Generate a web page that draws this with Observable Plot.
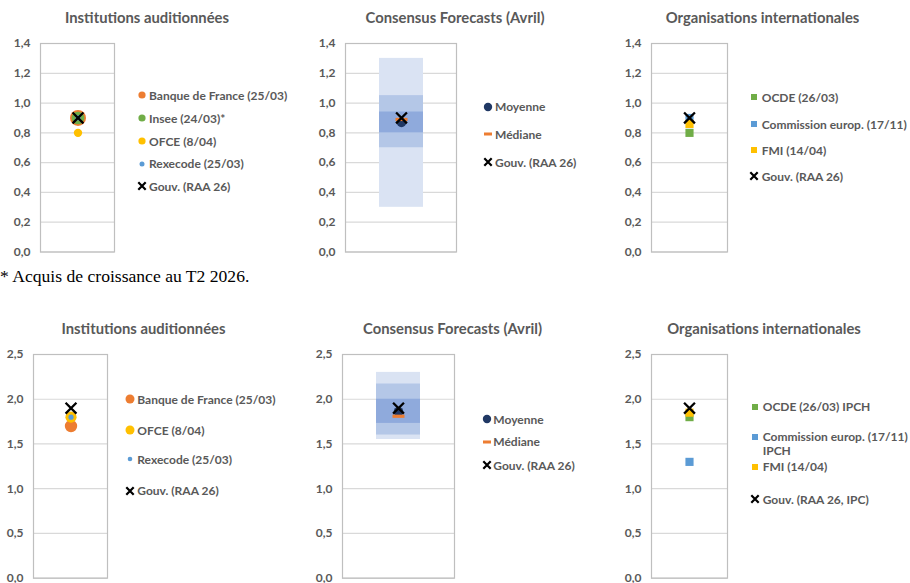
<!DOCTYPE html>
<html><head><meta charset="utf-8">
<script src="https://cdn.jsdelivr.net/npm/d3@7"></script>
<script src="https://cdn.jsdelivr.net/npm/@observablehq/plot@0.6"></script>
<style>
body{margin:0;background:#fff;}
#root{position:relative;width:910px;height:583px;overflow:hidden;font-family:Lato,"Open Sans",sans-serif;}
.abs{position:absolute;}
.title{font-weight:bold;font-size:14.8px;line-height:18px;color:#595959;white-space:nowrap;transform:translateX(-50%);}
.leg{font-weight:bold;font-size:12px;line-height:15px;color:#595959;white-space:nowrap;}
.note{font-family:"Liberation Serif","DejaVu Serif",serif;font-size:17.6px;line-height:20px;color:#000;white-space:nowrap;}
</style></head><body>
<div id="root"></div>
<script>
// ---------- DATA ----------
const growthTicks = [0, 0.2, 0.4, 0.6, 0.8, 1.0, 1.2, 1.4];
const inflTicks = [0, 0.5, 1.0, 1.5, 2.0, 2.5];
const panelTitles = ["Institutions auditionnées", "Consensus Forecasts (Avril)", "Organisations internationales"];

// Croissance 2026 (haut)
const growthInstNames = ["Banque de France (25/03)", "Insee (24/03)*", "OFCE (8/04)", "Rexecode (25/03)"];
const growthInstValues = [0.9, 0.9, 0.8, 0.9];
const growthGov = 0.9;
const growthGovLabel = "Gouv. (RAA 26)";
const growthBandLow = [0.3, 0.7, 0.8];
const growthBandHigh = [1.3, 1.05, 0.94];
const growthMean = 0.87;
const growthMedian = 0.89;
const growthOrgNames = ["OCDE (26/03)", "Commission europ. (17/11)", "FMI (14/04)"];
const growthOrgValues = [0.8, 0.9, 0.86];

// Inflation 2026 (bas)
const inflInstNames = ["Banque de France (25/03)", "OFCE (8/04)", "Rexecode (25/03)"];
const inflInstValues = [1.7, 1.8, 1.8];
const inflGov = 1.9;
const inflGovLabel = "Gouv. (RAA 26)";
const inflOrgGovLabel = "Gouv. (RAA 26, IPC)";
const inflBandLow = [1.55, 1.6, 1.73];
const inflBandHigh = [2.3, 2.17, 2.0];
const inflMean = 1.86;
const inflMedian = 1.81;
const inflOrgNames = ["OCDE (26/03) IPCH", "Commission europ. (17/11) IPCH", "FMI (14/04)"];
const inflOrgValues = [1.8, 1.3, 1.85];

const consensusNames = ["Moyenne", "Médiane"];
const footnote = "* Acquis de croissance au T2 2026.";

// ---------- STYLE ----------
const C = {orange:"#ED7D31", green:"#70AD47", yellow:"#FFC000", blue:"#5B9BD5", navy:"#203864",
           light:"#DAE3F3", mid:"#B4C7E7", dark:"#8FAADC"};
const fmt = d => d3.format(".1f")(d).replace(".", ",");
const root = document.getElementById("root");
const dashSymbol = {draw(ctx){ ctx.rect(-6, -1.6, 12, 3.2); }};

function panel(cfg, marks) {
  const mL = Math.min(40, cfg.boxLeft), mR = 2, mT = 10, mB = 8;
  const w = cfg.boxRight - cfg.boxLeft + mL + mR;
  const h = cfg.yBottom - cfg.yTop + mT + mB;
  const svg = Plot.plot({
    width: w, height: h, marginLeft: mL, marginRight: mR, marginTop: mT, marginBottom: mB,
    style: {fontFamily: "Lato", fontSize: "12px", fontWeight: "bold", color: "#595959", background: "transparent", overflow: "visible"},
    x: {type: "band", domain: ["c"], paddingInner: 0, paddingOuter: 0.75, axis: null},
    y: {domain: [0, cfg.max], axis: null},
    marks: [
      Plot.gridY(cfg.ticks, {stroke: "#d9d9d9", strokeOpacity: 1, strokeWidth: 1.2}),
      ...marks,
      Plot.frame({stroke: "#bfbfbf", strokeWidth: 1.2}),
      Plot.axisY(cfg.ticks, {tickSize: 0, tickPadding: 10, tickFormat: fmt, label: null})
    ]
  });
  svg.style.position = "absolute";
  svg.style.left = (cfg.boxLeft - mL) + "px";
  svg.style.top = (cfg.yTop - mT) + "px";
  root.appendChild(svg);
}

const X = () => "c";
function dots(values, styles) {
  return values.map((v, i) => Plot.dot([v], {x: X, y: d => d, ...styles[i]}));
}
const gov = v => Plot.dot([v], {x: X, y: d => d, symbol: "times", r: 5, stroke: "#000", strokeWidth: 2.3});
function bands(lo, hi) {
  const fills = [C.light, C.mid, C.dark];
  return lo.map((l, i) => Plot.barY([{l, h: hi[i]}], {x: X, y1: "l", y2: "h", fill: fills[i]}));
}

function title(text, cx, cy) {
  const d = document.createElement("div");
  d.className = "abs title"; d.textContent = text;
  d.style.left = cx + "px"; d.style.top = (cy - 9) + "px";
  root.appendChild(d);
}
function legend(mx, tx, items) {
  items.forEach(it => {
    const s = d3.create("svg").attr("width", 16).attr("height", 16)
      .style("position", "absolute").style("left", (mx - 8) + "px").style("top", (it.y - 8) + "px");
    const m = it.m;
    if (m.type === "circle") s.append("circle").attr("cx", 8).attr("cy", 8).attr("r", m.r).attr("fill", m.color);
    else if (m.type === "square") s.append("rect").attr("x", 8 - m.r).attr("y", 8 - m.r).attr("width", 2*m.r).attr("height", 2*m.r).attr("fill", m.color);
    else if (m.type === "dash") s.append("rect").attr("x", 4).attr("y", 6.5).attr("width", 8).attr("height", 3).attr("fill", m.color);
    else s.append("path").attr("d", "M4.3,4.3L11.7,11.7M11.7,4.3L4.3,11.7").attr("stroke", "#000").attr("stroke-width", 2.2);
    root.appendChild(s.node());
    const d = document.createElement("div");
    d.className = "abs leg"; d.textContent = it.text;
    d.style.left = tx + "px"; d.style.top = (it.y - 7.5) + "px";
    if (it.wrap) { d.style.whiteSpace = "normal"; d.style.width = it.wrap + "px"; d.style.lineHeight = "14.5px"; }
    root.appendChild(d);
  });
}

// ---------- TOP ROW : croissance ----------
const rowTop = {yTop: 43, yBottom: 251.5, max: 1.4, ticks: growthTicks};
const rowBot = {yTop: 354.3, yBottom: 578, max: 2.5, ticks: inflTicks};

const instTopStyles = [
  {r: 8, fill: C.orange}, {r: 6.3, fill: C.green}, {r: 4.2, fill: C.yellow}, {r: 2.6, fill: C.blue}];
panel({...rowTop, boxLeft: 40, boxRight: 114}, [...dots(growthInstValues, instTopStyles), gov(growthGov)]);
title(panelTitles[0], 147, 17);
legend(141.7, 149, [
  {y: 95, text: growthInstNames[0], m: {type: "circle", r: 3.6, color: C.orange}},
  {y: 118, text: growthInstNames[1], m: {type: "circle", r: 3.6, color: C.green}},
  {y: 141, text: growthInstNames[2], m: {type: "circle", r: 3.6, color: C.yellow}},
  {y: 163.7, text: growthInstNames[3], m: {type: "circle", r: 2.5, color: C.blue}},
  {y: 186, text: growthGovLabel, m: {type: "times"}}]);

panel({...rowTop, boxLeft: 345, boxRight: 456}, [
  ...bands(growthBandLow, growthBandHigh),
  Plot.dot([growthMean], {x: X, y: d => d, r: 4.8, fill: C.navy}),
  Plot.dot([growthMedian], {x: X, y: d => d, symbol: dashSymbol, fill: C.orange, stroke: "none"}),
  gov(growthGov)]);
title(panelTitles[1], 455, 17);
legend(488.3, 495, [
  {y: 106.7, text: consensusNames[0], m: {type: "circle", r: 4.2, color: C.navy}},
  {y: 134.3, text: consensusNames[1], m: {type: "dash", color: C.orange}},
  {y: 162.3, text: growthGovLabel, m: {type: "times"}}]);

const sq = color => ({symbol: "square", r: 4.6, fill: color});
panel({...rowTop, boxLeft: 651, boxRight: 727}, [...dots(growthOrgValues, [sq(C.green), sq(C.blue), sq(C.yellow)]), gov(growthGov)]);
title(panelTitles[2], 762.5, 17);
legend(754.3, 761.7, [
  {y: 97.3, text: growthOrgNames[0], m: {type: "square", r: 3, color: C.green}},
  {y: 124, text: growthOrgNames[1], m: {type: "square", r: 3, color: C.blue}},
  {y: 150, text: growthOrgNames[2], m: {type: "square", r: 3, color: C.yellow}},
  {y: 176, text: growthGovLabel, m: {type: "times"}}]);

const note = document.createElement("div");
note.className = "abs note"; note.textContent = footnote;
note.style.left = "0px"; note.style.top = "266px";
root.appendChild(note);

// ---------- BOTTOM ROW : inflation ----------
const instBotStyles = [{r: 6.2, fill: C.orange}, {r: 5.6, fill: C.yellow}, {r: 2.6, fill: C.blue}];
panel({...rowBot, boxLeft: 33, boxRight: 107}, [...dots(inflInstValues, instBotStyles), gov(inflGov)]);
title(panelTitles[0], 143.5, 328);
legend(130, 137.3, [
  {y: 399.3, text: inflInstNames[0], m: {type: "circle", r: 4.5, color: C.orange}},
  {y: 430, text: inflInstNames[1], m: {type: "circle", r: 4.5, color: C.yellow}},
  {y: 459.3, text: inflInstNames[2], m: {type: "circle", r: 2.3, color: C.blue}},
  {y: 490.7, text: inflGovLabel, m: {type: "times"}}]);

panel({...rowBot, boxLeft: 342, boxRight: 454}, [
  ...bands(inflBandLow, inflBandHigh),
  Plot.dot([inflMean], {x: X, y: d => d, r: 4.8, fill: C.navy}),
  Plot.dot([inflMedian], {x: X, y: d => d, symbol: dashSymbol, fill: C.orange, stroke: "none"}),
  gov(inflGov)]);
title(panelTitles[1], 452.5, 328);
legend(486.7, 493.3, [
  {y: 419, text: consensusNames[0], m: {type: "circle", r: 4.2, color: C.navy}},
  {y: 441.7, text: consensusNames[1], m: {type: "dash", color: C.orange}},
  {y: 465, text: inflGovLabel, m: {type: "times"}}]);

panel({...rowBot, boxLeft: 651, boxRight: 727}, [...dots(inflOrgValues, [sq(C.green), sq(C.blue), sq(C.yellow)]), gov(inflGov)]);
title(panelTitles[2], 764, 328);
legend(755, 762.7, [
  {y: 406.7, text: inflOrgNames[0], m: {type: "square", r: 3, color: C.green}},
  {y: 437.3, text: inflOrgNames[1], m: {type: "square", r: 3, color: C.blue}, wrap: 147},
  {y: 466.7, text: inflOrgNames[2], m: {type: "square", r: 3, color: C.yellow}},
  {y: 499.3, text: inflOrgGovLabel, m: {type: "times"}}]);
</script>
</body></html>
